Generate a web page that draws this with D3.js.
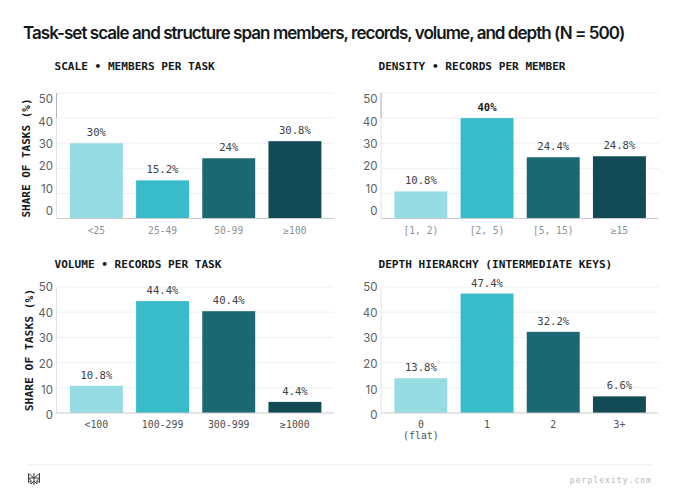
<!DOCTYPE html>
<html>
<head>
<meta charset="utf-8">
<script src="https://cdn.jsdelivr.net/npm/d3@7"></script>
<style>
  html, body { margin: 0; padding: 0; background: #fff; }
  svg { display: block; }
  text { font-family: Inter, sans-serif; }
  .mono { font-family: "DejaVu Sans Mono", monospace; }
</style>
</head>
<body>
<svg id="chart" width="680" height="495"></svg>
<script>
const chartTitle = "Task-set scale and structure span members, records, volume, and depth (N = 500)";
const panelTitles = ["SCALE • MEMBERS PER TASK", "DENSITY • RECORDS PER MEMBER", "VOLUME • RECORDS PER TASK", "DEPTH HIERARCHY (INTERMEDIATE KEYS)"];

const scaleCats = ["<25", "25-49", "50-99", "≥100"];
const scaleVals = [30, 15.2, 24, 30.8];
const densityCats = ["[1, 2)", "[2, 5)", "[5, 15)", "≥15"];
const densityVals = [10.8, 40, 24.4, 24.8];
const volumeCats = ["<100", "100-299", "300-999", "≥1000"];
const volumeVals = [10.8, 44.4, 40.4, 4.4];
const depthCats = ["0\n(flat)", "1", "2", "3+"];
const depthVals = [13.8, 47.4, 32.2, 6.6];

const yTicks = [0, 10, 20, 30, 40, 50];
const barColors = ["#97dce3", "#38bcca", "#1c6872", "#124b55"];

const svg = d3.select('#chart');

svg.append('text')
  .attr('x', 23).attr('y', 39)
  .attr('font-size', 17).attr('font-weight', 600)
  .attr('letter-spacing', -0.96).attr('fill', '#13191b')
  .text(chartTitle);

function drawPanel(opts) {
  const g = svg.append('g');
  const left = opts.left, right = left + 277.5;
  const x = d3.scaleBand().domain(opts.cats)
    .range([left + 6.8, left + 271.5]).paddingInner(0.2).paddingOuter(0.1);
  const y = d3.scaleLinear().domain([0, 50]).range([opts.bottom, opts.top]);
  // the tick labels do not sit on the gridlines in the top row, so they get their own scale
  const yLabels = d3.scaleLinear().domain([0, 50]).range(opts.labelRange);

  // grid
  g.append('g').selectAll('line').data(yTicks.filter(d => d > 0)).join('line')
    .attr('x1', left).attr('x2', right)
    .attr('y1', d => y(d)).attr('y2', d => y(d))
    .attr('stroke', '#eeeff0').attr('stroke-width', 1);

  // y axis line
  g.append('line')
    .attr('x1', left).attr('x2', left)
    .attr('y1', y(0)).attr('y2', y(50))
    .attr('stroke', '#e2e4e5');
  if (opts.axisAccent) {
    g.append('line')
      .attr('x1', left).attr('x2', left)
      .attr('y1', y(40)).attr('y2', y(50))
      .attr('stroke', '#b3b6b8');
  }

  const yAxis = d3.axisLeft(yLabels).tickValues(yTicks).tickSize(0).tickPadding(3.5);
  const ya = g.append('g').attr('transform', `translate(${left},0)`).call(yAxis);
  ya.select('.domain').remove();
  ya.selectAll('text')
    .attr('font-size', 11.5).attr('fill', '#5b6164')
    .attr('font-family', 'Inter, sans-serif');

  // bars
  g.append('g').selectAll('rect').data(opts.vals).join('rect')
    .attr('x', (d, i) => x(opts.cats[i]))
    .attr('y', d => y(d))
    .attr('width', x.bandwidth())
    .attr('height', d => y(0) - y(d))
    .attr('fill', (d, i) => barColors[i]);

  // baseline
  g.append('line')
    .attr('x1', left).attr('x2', right)
    .attr('y1', y(0)).attr('y2', y(0))
    .attr('stroke', '#c9cccd').attr('stroke-width', 1.2);

  // value labels
  g.append('g').selectAll('text').data(opts.vals).join('text')
    .attr('class', 'mono')
    .attr('x', (d, i) => x(opts.cats[i]) + x.bandwidth() / 2)
    .attr('y', d => y(d) - 7)
    .attr('text-anchor', 'middle')
    .attr('font-size', 10.6)
    .attr('font-weight', d => d === opts.bold ? 700 : 400)
    .attr('fill', d => d === opts.bold ? '#13191b' : '#3c4245')
    .text(d => d + '%');

  // x labels
  opts.cats.forEach(c => {
    const t = g.append('text')
      .attr('class', 'mono')
      .attr('text-anchor', 'middle')
      .attr('font-size', opts.xFont)
      .attr('fill', opts.xColor);
    c.split('\n').forEach((line, i) => {
      t.append('tspan')
        .attr('x', x(c) + x.bandwidth() / 2)
        .attr('y', opts.bottom + 15 + i * 11)
        .text(line);
    });
  });

  // panel title
  g.append('text')
    .attr('class', 'mono')
    .attr('x', opts.titleX).attr('y', opts.titleY)
    .attr('font-size', 11.1).attr('font-weight', 700)
    .attr('fill', '#13191b')
    .text(opts.title);

  // y label
  if (opts.yLabel) {
    g.append('text')
      .attr('class', 'mono')
      .attr('transform', `translate(${opts.yLabelX},${opts.yLabelY}) rotate(-90)`)
      .attr('text-anchor', 'middle')
      .attr('font-size', opts.yLabelFont).attr('font-weight', 700)
      .attr('fill', '#13191b')
      .text(opts.yLabel);
  }
}

drawPanel({ cats: scaleCats, vals: scaleVals, title: panelTitles[0], left: 56.5, top: 93, bottom: 218.5,
  labelRange: [211, 99], axisAccent: true,
  titleX: 54.5, titleY: 70, yLabel: "SHARE OF TASKS (%)", yLabelX: 29.5, yLabelY: 158, yLabelFont: 11,
  xFont: 9.6, xColor: '#8c9193' });
drawPanel({ cats: densityCats, vals: densityVals, bold: 40, title: panelTitles[1], left: 381, top: 93, bottom: 218.5,
  labelRange: [211, 99], axisAccent: true,
  titleX: 378.5, titleY: 70,
  xFont: 9.6, xColor: '#8c9193' });
drawPanel({ cats: volumeCats, vals: volumeVals, title: panelTitles[2], left: 56.5, top: 287, bottom: 413,
  labelRange: [415, 287],
  titleX: 54.5, titleY: 268, yLabel: "SHARE OF TASKS (%)", yLabelX: 33, yLabelY: 350, yLabelFont: 11.3,
  xFont: 9.9, xColor: '#4d5356' });
drawPanel({ cats: depthCats, vals: depthVals, title: panelTitles[3], left: 381, top: 287, bottom: 413,
  labelRange: [415, 287],
  titleX: 378.5, titleY: 268,
  xFont: 9.9, xColor: '#4d5356' });

// footer
svg.append('line')
  .attr('x1', 28).attr('x2', 652).attr('y1', 464.5).attr('y2', 464.5)
  .attr('stroke', '#f2f3f3');
svg.append('text')
  .attr('class', 'mono')
  .attr('x', 652).attr('y', 483)
  .attr('text-anchor', 'end')
  .attr('font-size', 8).attr('letter-spacing', 1.05)
  .attr('fill', '#b4b8b9')
  .text('perplexity.com');

const logo = svg.append('g')
  .attr('transform', 'translate(34,479)')
  .attr('fill', 'none').attr('stroke', '#3c4245').attr('stroke-width', 1);
logo.append('path').attr('d', 'M-5.5,-5.5 L0,-1 L5.5,-5.5 M0,-6 V6 M-5.5,-5.5 V-1 H5.5 V-5.5 M-5.5,-1 L-3,1.5 V5 L0,2 L3,5 V1.5 L5.5,-1 M-5.5,-1 V3.5 L-3,1.5 M5.5,-1 V3.5 L3,1.5');
</script>
</body>
</html>
